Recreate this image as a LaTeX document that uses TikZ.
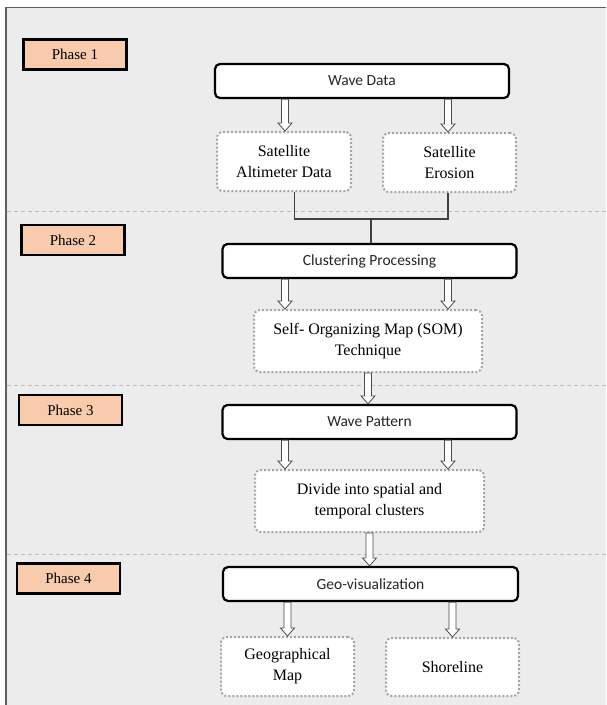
\documentclass[tikz,border=0pt]{standalone}
\usepackage{fontspec}
\setmainfont{Liberation Serif}
\newfontfamily\calfont{Carlito}
\usetikzlibrary{calc}
\definecolor{bggray}{RGB}{236,236,236}
\definecolor{peach}{RGB}{248,203,173}
\definecolor{dotgray}{RGB}{165,165,165}
\definecolor{framegray}{RGB}{95,95,95}
\definecolor{sepgray}{RGB}{190,190,190}
\begin{document}
\begin{tikzpicture}[x=1pt,y=-1pt,
  phasebox/.style={draw=black, line width=2.5pt, fill=peach, minimum width=103pt, minimum height=30pt, inner sep=0pt, font=\fontsize{15}{18}\selectfont},
  mainbox/.style={draw=black, line width=2.2pt, fill=white, rounded corners=5pt, minimum width=294pt, minimum height=34pt, inner sep=0pt, font=\calfont\fontsize{15.5}{18}\selectfont, text=black!85},
  dotbox/.style={draw=dotgray, line width=2pt, dash pattern=on 2pt off 2pt, fill=white, rounded corners=6pt, align=center, inner sep=0pt, font=\fontsize{16}{21}\selectfont},
  harrow/.style={draw=black!70, line width=0.8pt, fill=white, to path={let \p1=(\tikztostart), \p2=(\tikztotarget) in
     (\x1-3.5pt,\y1) -- (\x1-3.5pt,\y2+8pt) -- (\x1-7pt,\y2+8pt) -- (\x1,\y2) -- (\x1+7pt,\y2+8pt) -- (\x1+3.5pt,\y2+8pt) -- (\x1+3.5pt,\y1) -- cycle}},
  conn/.style={draw=black!75, line width=1.1pt},
  sep/.style={draw=sepgray, line width=0.8pt, dash pattern=on 4pt off 3pt}
]
\useasboundingbox (0,0) rectangle (606,705);
\fill[white] (0,0) rectangle (606,705);
\fill[bggray] (6,7.5) rectangle (606,705);
\draw[framegray, line width=1.2pt] (6,705) -- (6,7.5) -- (606,7.5);

% separators
\draw[sep] (7,211) -- (606,211);
\draw[sep] (7,385) -- (606,385);
\draw[sep] (7,554) -- (606,554);

% phase labels
\node[phasebox] (p1) at (75,54.5) {Phase 1};
\node[phasebox] (p2) at (73,240) {Phase 2};
\node[phasebox] (p3) at (70.5,410) {Phase 3};
\node[phasebox] (p4) at (68.5,578.5) {Phase 4};

% main boxes
\node[mainbox] (wd) at (362,81) {Wave Data};
\node[mainbox] (cp) at (369.5,261) {Clustering Processing};
\node[mainbox] (wp) at (369.5,422) {Wave Pattern};
\node[mainbox, minimum width=295pt] (gv) at (370.5,584) {Geo-visualization};

% dotted boxes
\node[dotbox, minimum width=134pt, minimum height=59pt] (s1) at (284,161.5) {Satellite\\Altimeter Data};
\node[dotbox, minimum width=133pt, minimum height=59pt] (s2) at (449.5,162.5) {Satellite\\Erosion};
\node[dotbox, minimum width=228pt, minimum height=62pt] (som) at (368,341) {Self- Organizing Map (SOM)\\Technique};
\node[dotbox, minimum width=229pt, minimum height=62pt] (div) at (369.5,501) {Divide into spatial and\\temporal clusters};
\node[dotbox, minimum width=133pt, minimum height=59pt] (gm) at (287.5,666.5) {Geographical\\Map};
\node[dotbox, minimum width=133pt, minimum height=58pt] (sh) at (452.5,667) {Shoreline};

% column coordinates
\coordinate (cL) at (285,0);
\coordinate (cR) at (448,0);
\coordinate (j1) at (294.5,219);
\coordinate (jn) at (371,219);

% hollow arrows
\draw[harrow] (wd.south -| cL) to (s1.north -| cL);
\draw[harrow] (wd.south -| cR) to (s2.north -| cR);
\draw[harrow] (cp.south -| cL) to (som.north -| cL);
\draw[harrow] (cp.south -| cR) to (som.north -| cR);
\draw[harrow] (som.south) to (wp.north -| som.south);
\draw[harrow] (wp.south -| cL) to (div.north -| cL);
\draw[harrow] (wp.south -| cR) to (div.north -| cR);
\draw[harrow] (div.south) to (gv.north -| div.south);
\draw[harrow] (gv.south -| gm.north) to (gm.north);
\draw[harrow] (gv.south -| sh.north) to (sh.north);

% joining connector
\draw[conn] (s1.south -| j1) -- (j1) -- (j1 -| cR) -- (s2.south -| cR);
\draw[conn] (jn) -- (cp.north -| jn);
\end{tikzpicture}
\end{document}
